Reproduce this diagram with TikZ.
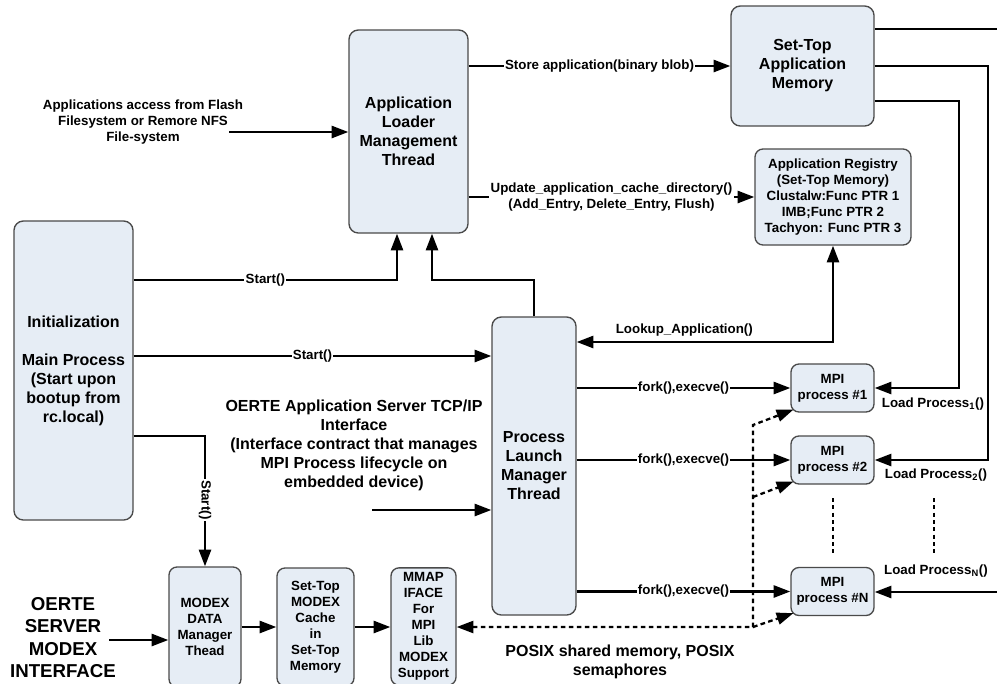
\documentclass[tikz,border=0pt]{standalone}
\usepackage{fontspec}
\setmainfont{Liberation Sans}
\usetikzlibrary{arrows.meta,calc}
\definecolor{boxfill}{HTML}{E6EDF5}
\definecolor{boxline}{HTML}{4A4A4A}

\begin{document}
\begin{tikzpicture}[x=0.75pt,y=-0.75pt,
  tip/.tip={Triangle[length=12.5pt,width=9pt]},
  box/.style={draw=boxline, fill=boxfill, line width=1pt, rounded corners=7pt,
    align=center, inner sep=2pt, font=\bfseries\fontsize{12}{14.25}\selectfont},
  sbox/.style={box, rounded corners=6pt, font=\bfseries\fontsize{10}{12}\selectfont},
  conn/.style={line width=1.9pt},
  arr/.style={conn, -tip},
  darr/.style={conn, tip-tip},
  lbl/.style={font=\bfseries\fontsize{10}{12}\selectfont, fill=white, inner sep=1pt, align=center},
  note/.style={font=\bfseries\fontsize{10}{12}\selectfont, align=center, inner sep=1pt},
  txt/.style={align=center, inner sep=1pt, font=\bfseries\fontsize{12}{14.25}\selectfont},
  dsh/.style={line width=1.7pt, dash pattern=on 3.5pt off 2.5pt},
  dots/.style={line width=1.9pt, dash pattern=on 3pt off 2.5pt}]

\useasboundingbox (0,0) rectangle (997,683);
\clip (0,0) rectangle (997,683);

% main blocks
\node[box, minimum width=89.25pt, minimum height=152.25pt] (loader) at (408.5,131.5)
  {Application\\Loader\\Management\\Thread};
\node[box, minimum width=89.25pt, minimum height=224.25pt] (init) at (73.5,370.5)
  {Initialization\\\mbox{}\\Main Process\\(Start upon\\bootup from\\rc.local)};
\node[box, minimum width=63pt, minimum height=223.5pt] (plm) at (534,466)
  {Process\\Launch\\Manager\\Thread};
\node[box, minimum width=107.25pt, minimum height=90pt] (mem) at (802.5,66)
  {Set-Top\\Application\\Memory};
\node[sbox, minimum width=117pt, minimum height=72pt] (reg) at (833,197)
  {Application Registry\\(Set-Top Memory)\\Clustalw:Func PTR 1\\IMB;Func PTR 2\\Tachyon: Func PTR 3};

% MPI processes
\node[sbox, minimum width=62.25pt, minimum height=36pt] (mpi1) at (832.5,388) {MPI\\process \#1};
\node[sbox, minimum width=62.25pt, minimum height=36pt] (mpi2) at (832.5,460) {MPI\\process \#2};
\node[sbox, minimum width=62.25pt, minimum height=36pt] (mpiN) at (832.5,591.5) {MPI\\process \#N};

% MODEX chain (boxes run past the lower edge)
\node[sbox, minimum width=54pt, minimum height=90pt] (modex) at (205,627)
  {MODEX\\DATA\\Manager\\Thead};
\node[sbox, minimum width=57.75pt, minimum height=88.5pt] (cache) at (315.5,627)
  {Set-Top\\MODEX\\Cache\\in\\Set-Top\\Memory};
\node[sbox, minimum width=48.75pt, minimum height=88pt, inner sep=1pt] (mmap) at (423.5,626.5)
  {MMAP\\IFACE\\For\\MPI\\Lib\\MODEX\\Support};

% free texts
\node[note] (srctxt) at (143,122) {Applications access from Flash\\Filesystem or Remore NFS\\File-system};
\coordinate (src) at (229,132);
\node[txt] (srvtxt) at (354,445.5) {OERTE Application Server TCP/IP\\Interface\\(Interface contract that manages\\MPI Process lifecycle on\\embedded device)};
\coordinate (srv) at (372,510);
\node[align=center, inner sep=1pt, font=\bfseries\fontsize{14}{16.9}\selectfont] (modtxt) at (63,637.5)
  {OERTE\\SERVER\\MODEX\\INTERFACE};
\coordinate (mod) at (109,640);
\node[txt] (posix) at (620,662) {POSIX shared memory, POSIX\\semaphores};

% loader connections
\draw[arr] (src) -- (loader.west |- src);
\draw[arr] (loader.east |- mem.west) -- node[lbl] {Store application(binary blob)} (mem.west);
\draw[arr] (loader.east |- reg.west) -- node[lbl] {Update\_application\_cache\_directory()\\(Add\_Entry, Delete\_Entry, Flush)} (reg.west);

% start calls from the main process
\draw[arr] (init.east |- 0,280) -- node[lbl] {Start()} (397,280) -- (loader.south -| 397,0);
\draw[arr] (plm.north) |- (432,280) -- (loader.south -| 432,0);
\draw[arr] (init.east |- 0,356) -- node[lbl] {Start()} (plm.west |- 0,356);
\draw[arr] (init.east |- 0,436) -| node[lbl, rotate=-90, pos=0.745] {Start()} (modex.north);
\draw[arr] (srv) -- (plm.west |- srv);

% registry lookup
\draw[darr] (reg.south) |- node[note, above=2pt, pos=0.79] {Lookup\_Application()} (plm.east |- 0,342);

% process launch
\draw[arr] (plm.east |- mpi1.west) -- node[lbl] {fork(),execve()} (mpi1.west);
\draw[arr] (plm.east |- mpi2.west) -- node[lbl] {fork(),execve()} (mpi2.west);
\draw[arr] (plm.east |- mpiN.west) -- node[lbl] {fork(),execve()} (mpiN.west);

% loading from application memory
\draw[conn] (mem.east |- 0,29) -- (1005,29);
\draw[arr] (mem.east |- 0,66) -| (988,460) -- (mpi2.east);
\draw[arr] (mem.east |- 0,101) -| (959,388) -- (mpi1.east);
\draw[arr] (1005,592) -- (mpiN.east |- 0,592);
\node[note] (lp1) at (933,404) {Load Process\textsubscript{1}()};
\node[note] (lp2) at (936,475) {Load Process\textsubscript{2}()};
\node[note] (lpN) at (936,571) {Load Process\textsubscript{N}()};

% continuation marks
\draw[dots] (833,498) -- (833,553);
\draw[dots] (934,498) -- (934,553);

% MODEX data path
\draw[arr] (mod) -- (modex.west |- mod);
\draw[arr] (modex.east) -- (cache.west);
\draw[arr] (cache.east) -- (mmap.west |- cache.east);

% shared memory / semaphores
\coordinate (bus) at (753,627);
\coordinate (bus2) at (753,497);
\coordinate (bus1) at (753,425);
\draw[dsh, tip-tip]
  (mmap.east |- bus) -- (bus) -- (bus1) -- ([shift={(3,-3)}]mpi1.south west);
\draw[dsh, -tip] (bus2) -- ([shift={(3,-3)}]mpi2.south west);
\draw[dsh, -tip] (bus) -- ([shift={(3,-3)}]mpiN.south west);
\end{tikzpicture}
\end{document}
